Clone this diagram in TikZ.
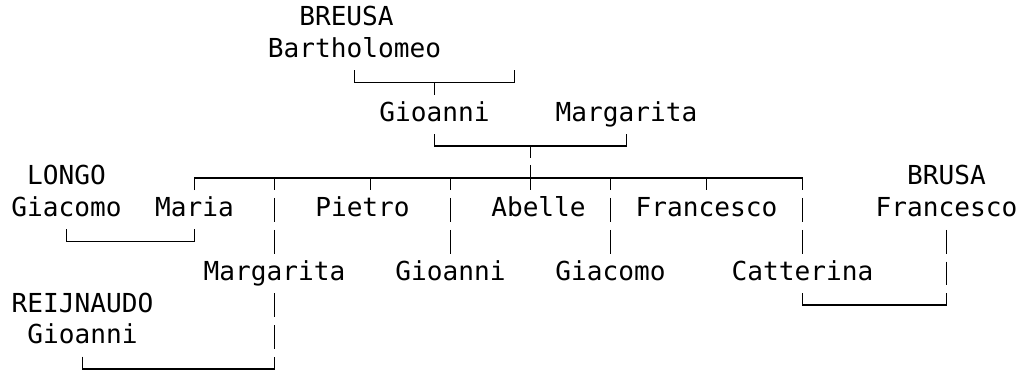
\documentclass[tikz,border=0pt]{standalone}
\usepackage{fontspec}
\setmonofont{DejaVu Sans Mono}
\usepackage{tikz}

\begin{document}
\begin{tikzpicture}[x=0.4cm, y=-0.795cm,
  every node/.style={font=\ttfamily\fontsize{18.6}{22}\selectfont, inner sep=0pt, anchor=base},
  link/.style={line width=1.1pt}]
  \useasboundingbox (-0.156,-0.566) rectangle (63.656,11.101);

  % names, one column = one character, baseline a quarter row under the row
  \node (breusa)  at (21.5,0.25) {BREUSA};
  \node (bart)    at (22,1.25)   {Bartholomeo};
  \node (gioanni) at (27,3.25)   {Gioanni};
  \node (marg)    at (39,3.25)   {Margarita};
  \node (longo)   at (4,5.25)    {LONGO};
  \node (brusa)   at (59,5.25)   {BRUSA};
  \node (giacomo) at (4,6.25)    {Giacomo};
  \node (maria)   at (12,6.25)   {Maria};
  \node (pietro)  at (22.5,6.25) {Pietro};
  \node (abelle)  at (33.5,6.25) {Abelle};
  \node (franc)   at (44,6.25)   {Francesco};
  \node (francb)  at (59,6.25)   {Francesco};
  \node (margc)   at (17,8.25)   {Margarita};
  \node (gioc)    at (28,8.25)   {Gioanni};
  \node (giac)    at (38,8.25)   {Giacomo};
  \node (catt)    at (50,8.25)   {Catterina};
  \node (reij)    at (5,9.25)    {REIJNAUDO};
  \node (gior)    at (5,10.25)   {Gioanni};

  % couples
  \draw[link] (bart |- 0,1.65) |- (32,2.03) -- (32,1.65);
  \draw[link] (gioanni |- 0,2.03) -- (gioanni |- 0,2.41);
  \draw[link] (gioanni |- 0,3.65) |- (marg |- 0,4.03) -- (marg |- 0,3.65);
  \draw[link] (33,4.03) -- (33,4.41);

  % children of Gioanni and Margarita
  \draw[link] (maria |- 0,5.41) |- (catt |- 0,5.03) -- (catt |- 0,5.41);
  \draw[link] (33,4.62) -- (33,5.41);
  \foreach \c in {17,23,28,38,44}
    \draw[link] (\c,5.03) -- (\c,5.41);
  \foreach \c in {17,28,38,50}
    \draw[link] (\c,5.66) -- (\c,6.41) (\c,6.66) -- (\c,7.41);

  % marriages of the children
  \draw[link] (giacomo |- 0,6.65) |- (maria |- 0,7.03) -- (maria |- 0,6.65);
  \draw[link] (59,6.66) -- (59,7.41) (59,7.66) -- (59,8.41);
  \draw[link] (catt |- 0,8.65) |- (francb |- 0,9.03) -- (francb |- 0,8.65);
  \draw[link] (17,8.66) -- (17,9.41) (17,9.66) -- (17,10.41);
  \draw[link] (gior |- 0,10.65) |- (margc |- 0,11.03) -- (margc |- 0,10.65);
\end{tikzpicture}
\end{document}
